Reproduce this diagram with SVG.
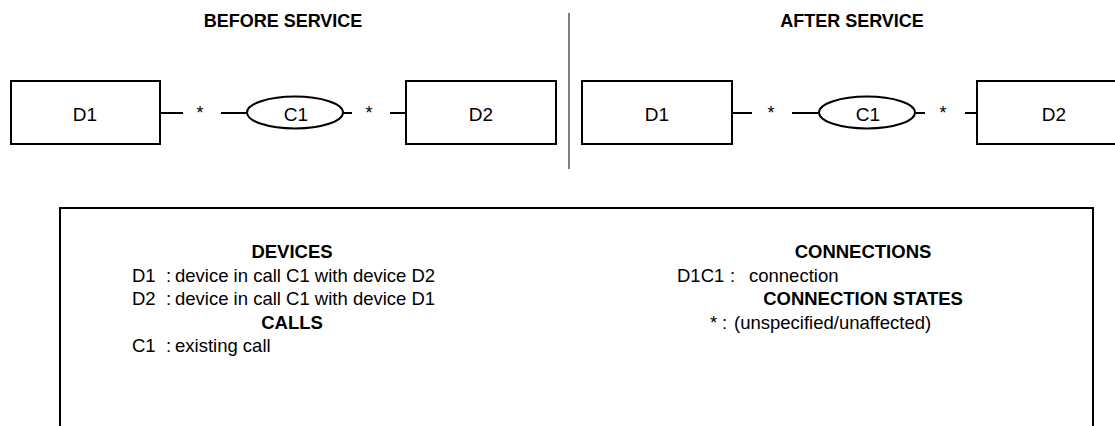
<svg xmlns="http://www.w3.org/2000/svg" width="1115" height="426" viewBox="0 0 1115 426">
<style>
text{font-family:"Liberation Sans",Arial,sans-serif;fill:#000}
.h{font-size:18px;font-weight:bold;text-anchor:middle}
.n{font-size:19px;text-anchor:middle}
.s{font-size:18.5px}
.st{font-size:18px;text-anchor:middle}
.b{font-size:18.5px;font-weight:bold;text-anchor:middle}
.box{fill:#fff;stroke:#000;stroke-width:2}
.ln{stroke:#000;stroke-width:2;fill:none}
</style>
<rect width="1115" height="426" fill="#fff"/>
<text class="h" x="283" y="27">BEFORE SERVICE</text>
<text class="h" x="852" y="27">AFTER SERVICE</text>
<line x1="569" y1="13" x2="569" y2="169" stroke="#808080" stroke-width="2"/>
<g id="connectors">
<line class="ln" x1="160" y1="113" x2="183" y2="113"/>
<line class="ln" x1="221" y1="113" x2="247" y2="113"/>
<line class="ln" x1="343" y1="113" x2="352" y2="113"/>
<line class="ln" x1="390" y1="113" x2="406" y2="113"/>
<text class="st" x="200" y="119">*</text>
<text class="st" x="369" y="119">*</text>
<line class="ln" x1="732" y1="113" x2="752" y2="113"/>
<line class="ln" x1="792" y1="113" x2="818" y2="113"/>
<line class="ln" x1="916" y1="113" x2="925" y2="113"/>
<line class="ln" x1="965" y1="113" x2="977" y2="113"/>
<text class="st" x="771" y="119">*</text>
<text class="st" x="943" y="119">*</text>
</g>
<g id="d1-before"><rect class="box" x="11" y="81" width="149" height="63"/><text class="n" x="85" y="121">D1</text></g>
<g id="c1-before"><ellipse class="box" cx="295" cy="112.5" rx="48" ry="16"/><text class="n" x="296" y="121">C1</text></g>
<g id="d2-before"><rect class="box" x="406" y="81" width="150" height="63"/><text class="n" x="481" y="121">D2</text></g>
<g id="d1-after"><rect class="box" x="582" y="81" width="150" height="63"/><text class="n" x="657" y="121">D1</text></g>
<g id="c1-after"><ellipse class="box" cx="867" cy="112.5" rx="48" ry="16"/><text class="n" x="868" y="121">C1</text></g>
<g id="d2-after"><rect class="box" x="977" y="81" width="150" height="63"/><text class="n" x="1054" y="121">D2</text></g>
<g id="legend">
<path class="ln" d="M60 427 V208 H1093 V427"/>
<text class="b" x="292" y="258">DEVICES</text>
<text class="s" y="282"><tspan x="132">D1</tspan><tspan x="166">:</tspan><tspan x="175">device in call C1 with device D2</tspan></text>
<text class="s" y="305"><tspan x="132">D2</tspan><tspan x="166">:</tspan><tspan x="175">device in call C1 with device D1</tspan></text>
<text class="b" x="292" y="329">CALLS</text>
<text class="s" y="352"><tspan x="132">C1</tspan><tspan x="166">:</tspan><tspan x="175">existing call</tspan></text>
<text class="b" x="863" y="258">CONNECTIONS</text>
<text class="s" y="282"><tspan x="677">D1C1</tspan><tspan x="730">:</tspan><tspan x="749">connection</tspan></text>
<text class="b" x="863" y="305">CONNECTION STATES</text>
<text class="s" y="329"><tspan x="710">*</tspan><tspan x="722">:</tspan><tspan x="734">(unspecified/unaffected)</tspan></text>
</g>
</svg>
